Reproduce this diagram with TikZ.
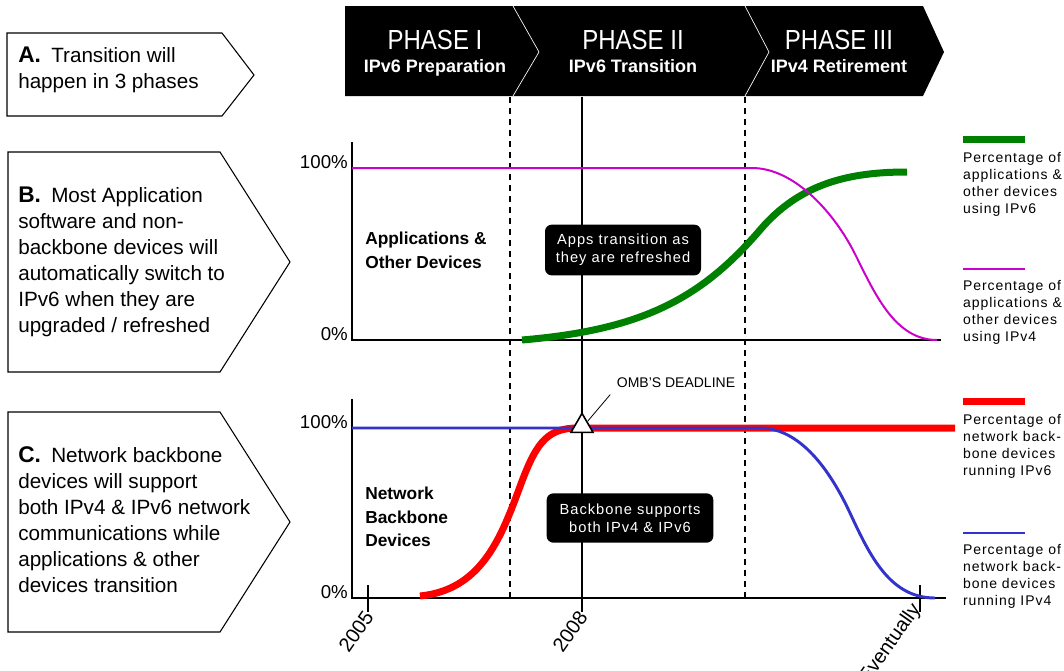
\documentclass[tikz,border=0pt]{standalone}
\usepackage{fontspec}
\setmainfont{Liberation Sans}
\newfontfamily\spacedfont[LetterSpace=7]{Liberation Sans}
\usepackage{graphicx}
\usepackage{tikz}
\usetikzlibrary{positioning,shapes.geometric}
\definecolor{appsix}{RGB}{0,128,0}
\definecolor{appfour}{RGB}{204,0,204}
\definecolor{netsix}{RGB}{255,0,0}
\definecolor{netfour}{RGB}{51,51,204}
\newcommand{\phasehead}[2]{\scalebox{1}[1.15]{\fontsize{18}{20}\selectfont #1}\\\bfseries #2}
\tikzstyle{note}=[
	draw=black,
	line width=.8,
	fill=white]
\tikzstyle{notetext}=[
	anchor=north west,
	align=left,
	inner sep=0,
	font=\fontsize{15.5}{19.5}\selectfont]
\tikzstyle{phase}=[
	anchor=north,
	align=center,
	inner sep=0,
	text=white,
	font=\fontsize{13.5}{17}\selectfont]
\tikzstyle{axis}=[
	line width=2.2,
	line cap=rect]
\tikzstyle{border}=[
	dashed,
	dash pattern=on 4.5pt off 3.75pt,
	line width=1]
\tikzstyle{pct}=[
	anchor=east,
	inner sep=0,
	font=\fontsize{14}{16}\selectfont]
\tikzstyle{group}=[
	anchor=north west,
	align=left,
	inner sep=0,
	font=\bfseries\fontsize{13}{17.5}\selectfont]
\tikzstyle{callout}=[
	rectangle,
	rounded corners=5,
	fill=black,
	text=white,
	align=center,
	inner sep=0,
	font=\spacedfont\fontsize{11}{13.5}\selectfont]
\tikzstyle{year}=[
	anchor=east,
	rotate=55,
	inner sep=0,
	font=\fontsize{15}{17}\selectfont]
\tikzstyle{key}=[
	rectangle,
	inner sep=0,
	minimum width=46.5pt]
\tikzstyle{legtext}=[
	align=left,
	inner sep=0,
	font=\spacedfont\fontsize{10.5}{12.75}\selectfont]

\begin{document}
\begin{tikzpicture}[x=.75pt,y=-.75pt]
	\fill[white] (0,0) rectangle (1064,671);
	\useasboundingbox (0,0) rectangle (1064,671);
	% notes on the left
	\begin{scope}
		\draw[note] (7,33) -- (222,33) -- (254,75) -- (222,116) -- (7,116) -- cycle;
		\draw[note] (8,152) -- (220,152) -- (290,262) -- (220,372) -- (8,372) -- cycle;
		\draw[note] (8,412) -- (220,412) -- (290,522) -- (220,632) -- (8,632) -- cycle;
		\node[notetext] (notea) at (18,47) {{\bfseries\fontsize{17}{19.5}\selectfont A.}\enspace Transition will\\happen in 3 phases};
		\node[notetext] (noteb) at (18,187) {{\bfseries\fontsize{17}{19.5}\selectfont B.}\enspace Most Application\\software and non-\\backbone devices will\\automatically switch to\\IPv6 when they are\\upgraded / refreshed};
		\node[notetext] (notec) at (18,446) {{\bfseries\fontsize{17}{19.5}\selectfont C.}\enspace Network backbone\\devices will support\\both IPv4 \& IPv6 network\\communications while\\applications \& other\\devices transition};
	\end{scope}
	% phase banner
	\begin{scope}
		\fill[black] (345,6) -- (923,6) -- (944,52) -- (923,96) -- (345,96) -- cycle;
		\draw[white,line width=.5] (513,6) -- (539,52) -- (513,96);
		\draw[white,line width=.5] (745,6) -- (769,52) -- (745,96);
		\node[phase] (phaseone) at (435,30) {\phasehead{PHASE I}{IPv6 Preparation}};
		\node[phase] (phasetwo) at (633,30) {\phasehead{PHASE II}{IPv6 Transition}};
		\node[phase] (phasethree) at (839,30) {\phasehead{PHASE III}{IPv4 Retirement}};
	\end{scope}
	% grid of the two charts
	\draw[border] (510,97) -- (510,598);
	\draw[border] (745,97) -- (745,598);
	\draw[line width=1] (582,97) -- (582,612);
	\draw[line width=1] (368,585) -- (368,612);
	\draw[line width=1] (920,585) -- (920,612);
	\draw[axis] (352,143) -- (352,340) -- (940,340);
	\draw[axis] (352,400) -- (352,598) -- (945,598);
	\node[pct] (tophigh) at (348,162) {100\%};
	\node[pct] (toplow) at (348,334) {0\%};
	\node[pct] (bothigh) at (348,422) {100\%};
	\node[pct] (botlow) at (348,592) {0\%};
	\node[group] (apps) at (365,232) {Applications \&\\Other Devices};
	\node[group] (backbone) at (365,487) {Network\\Backbone\\Devices};
	\node[year] (yfive) at (369,613) {2005};
	\node[year] (yeight) at (583,613) {2008};
	\node[year] (yend) at (917,606) {Eventually};
	% curves
	\draw[appsix,line width=5.25] (522,340) .. controls (640,330) and (700,300) .. (760,230) .. controls (800,183) and (850,172) .. (907,172);
	\draw[appfour,line width=1.5] (352,168) -- (752,168) .. controls (795,168) and (835,214) .. (855,254) .. controls (875,294) and (895,340) .. (937,340);
	\draw[netsix,line width=5.25] (420,596) .. controls (480,590) and (500,540) .. (518,492) .. controls (535,445) and (545,428) .. (578,428) -- (955,428);
	\draw[netfour,line width=2.2] (352,428) -- (760,428) .. controls (800,428) and (830,470) .. (850,513) .. controls (870,556) and (890,598) .. (935,598);
	% deadline
	\node[regular polygon,regular polygon sides=3,minimum size=19pt,inner sep=0,draw=black,fill=white,line width=1.2] (deadline) at (582,426) {};
	\node[inner sep=2pt,outer sep=3pt,font=\fontsize{10.5}{12}\selectfont] (omb) at (676,383) {OMB'S DEADLINE};
	\draw[line width=.6] (deadline.40) -- (omb.south west);
	% callouts
	\node[callout,minimum width=117pt,minimum height=38pt] (appsnote) at (623,250) {Apps transition as\\they are refreshed};
	\node[callout,minimum width=125pt,minimum height=37pt] (backnote) at (630,518) {Backbone supports\\both IPv4 \& IPv6};
	% legend
	\begin{scope}
		\node[key,fill=appsix,minimum height=5.25pt] (keyappsix) at (994,139) {};
		\node[key,fill=appfour,minimum height=1.5pt] (keyappfour) at (994,269) {};
		\node[key,fill=netsix,minimum height=5.25pt] (keynetsix) at (994,401) {};
		\node[key,fill=netfour,minimum height=2.2pt] (keynetfour) at (994,533) {};
		\node[legtext,below=7pt of keyappsix.south west,anchor=north west] (txtappsix) {Percentage of\\applications \&\\other devices\\using IPv6};
		\node[legtext,below=7pt of keyappfour.south west,anchor=north west] (txtappfour) {Percentage of\\applications \&\\other devices\\using IPv4};
		\node[legtext,below=7pt of keynetsix.south west,anchor=north west] (txtnetsix) {Percentage of\\network back-\\bone devices\\running IPv6};
		\node[legtext,below=7pt of keynetfour.south west,anchor=north west] (txtnetfour) {Percentage of\\network back-\\bone devices\\running IPv4};
	\end{scope}
\end{tikzpicture}
\end{document}
